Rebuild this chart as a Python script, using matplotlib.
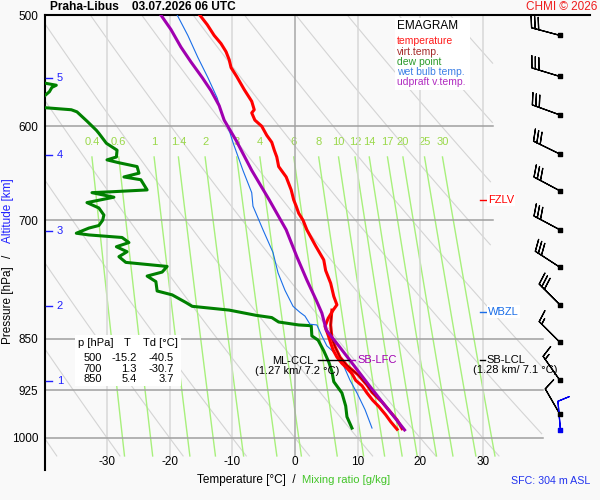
import numpy as np
import matplotlib
matplotlib.use('Agg')
import matplotlib.pyplot as plt
from matplotlib import ticker
from matplotlib.patches import Rectangle

plt.rcParams['font.family'] = ['Liberation Sans', 'DejaVu Sans']

# sounding readings (hPa, degC)
temp_p = [500, 508, 517, 524, 531, 538, 545, 553, 565, 576, 584, 587, 594, 600, 609, 616, 624, 631, 641,
          652, 666, 677, 684, 692, 700, 711, 730, 747, 760, 776, 793, 804, 811, 822, 833, 845, 856, 866,
          876, 885, 892, 900, 910, 918, 929, 940, 950, 963, 974, 986]
temp_T = [-15.2, -14.0, -12.9, -11.8, -11.0, -10.5, -10.2, -9.3, -8.1, -6.9, -6.5, -6.9, -6.4, -5.3, -4.5,
          -3.7, -3.3, -2.9, -2.6, -1.4, -0.6, -0.2, 0.2, 0.6, 1.3, 1.9, 3.3, 4.6, 4.9, 5.7, 6.2, 6.7, 6.1,
          5.3, 4.8, 5.3, 5.7, 6.1, 6.7, 7.5, 8.3, 9.1, 9.7, 10.7, 11.5, 12.4, 13.4, 14.5, 15.3, 16.3]

virt_p = [811, 831, 849, 861, 876, 888, 902, 917, 928, 943, 958, 971, 985]
virt_T = [5.9, 5.7, 5.9, 6.4, 7.2, 8.3, 10.1, 11.5, 12.3, 13.9, 15.2, 16.3, 17.1]

dew_p = [556, 559, 561, 563, 567, 571, 575, 580, 582, 584, 586, 595, 604, 607, 617, 624, 631, 634, 637,
         641, 648, 652, 655, 666, 668, 669, 674, 680, 686, 694, 700, 706, 709, 715, 717, 720, 726, 731,
         737, 743, 750, 755, 762, 767, 774, 786, 791, 801, 806, 811, 818, 821, 827, 831, 832, 846, 852,
         867, 883, 897, 912, 929, 949, 966, 984]
dew_T = [-41.5, -40.0, -38.1, -38.8, -39.2, -40.0, -41.6, -41.6, -40.0, -35.7, -34.8, -33.2, -31.7, -31.3,
         -30.1, -28.4, -28.5, -30.0, -28.1, -25.2, -24.9, -27.3, -24.6, -23.6, -29.2, -32.4, -28.9, -33.2,
         -31.3, -30.5, -30.7, -31.3, -32.9, -34.9, -32.9, -27.6, -26.5, -28.5, -26.8, -28.1, -27.0, -20.4,
         -21.2, -23.6, -22.2, -22.0, -19.6, -17.4, -16.4, -10.5, -6.2, -3.7, -2.6, 0.6, 2.6, 2.7, 3.7,
         4.6, 5.4, 5.9, 6.2, 7.5, 8.1, 8.3, 9.1]

wetb_p = [500, 517, 536, 554, 573, 589, 599, 606, 616, 645, 669, 684, 711, 738, 763, 785, 806, 814, 819,
          830, 831, 846, 860, 868, 887, 910, 929, 955, 984]
wetb_T = [-18.8, -17.1, -15.5, -13.9, -12.4, -11.6, -10.9, -10.4, -9.9, -8.3, -6.9, -6.7, -5.1, -3.5,
          -2.7, -1.6, -0.3, 0.8, 1.6, 2.4, 3.5, 4.3, 5.1, 6.1, 7.7, 8.8, 9.9, 11.2, 12.3]

parcel_p = [500, 512, 527, 540, 554, 566, 580, 594, 614, 645, 677, 711, 743, 772, 798, 815, 838, 860,
            882, 917, 940, 963, 987]
parcel_T = [-21.4, -19.8, -18.2, -16.6, -14.8, -13.4, -12.1, -11.3, -9.4, -6.9, -4.1, -1.4, 0.3, 1.9,
            3.4, 4.3, 5.0, 7.0, 8.9, 11.8, 13.7, 15.6, 17.5]

# winds
wind_p = [517, 553, 589, 628, 667, 711, 756, 804, 855, 910, 962]
wind_dir = [285, 287, 290, 296, 298, 298, 303, 315, 315, 325, 330]
wind_kt = [30, 30, 30, 30, 30, 30, 30, 30, 15, 15, 10]
sfc_p, sfc_dir, sfc_kt = 987, 355, 10

# axes furniture
temp_ticks = [-30, -20, -10, 0, 10, 20, 30]
p_levels = [500, 600, 700, 850, 925, 1000]
mix_ratios = [0.4, 0.6, 1, 1.4, 2, 3, 4, 6, 8, 10, 12, 14, 17, 20, 25, 30]
alt_km = [1, 2, 3, 4, 5]
alt_p = [911, 806, 712, 629, 554]

table_rows = [('500', '-15.2', '-40.5'), ('700', '1.3', '-30.7'), ('850', '5.4', '3.7')]
legend_items = [('temperature', '#ff1a1a'), ('virt.temp.', '#a52a2a'), ('dew point', '#2a9a2a'),
                ('wet bulb temp.', '#3b7fe6'), ('udpraft v.temp.', '#b02cc0')]

RED = '#ff0000'
GREEN = '#008000'
BLUE = '#1a6ee8'
PURPLE = '#a000b0'


def fx(x):
    return x / 600.0


def fy(y):
    return 1 - y / 500.0


def right_edge(p):
    return np.where(p < 800, 31.6, 39.6)


def mix_td(w, p):
    e = w * p / (622.0 + w)
    a = np.log(e / 6.112)
    return 243.5 * a / (17.67 - a)


fig = plt.figure(figsize=(6, 5), dpi=100, facecolor='#f9f9f9')
ax = fig.add_axes([fx(45), fy(470), fx(590) - fx(45), fy(15) - fy(470)])
ax.set_facecolor('#f9f9f9')
ax.set_yscale('log')
ax.set_ylim(1054, 500)
ax.set_xlim(-39.9, 47.1)
for s in ['right', 'bottom']:
    ax.spines[s].set_visible(False)
ax.spines['top'].set_linewidth(1.5)
ax.spines['left'].set_linewidth(1.5)
ax.set_xticks([])
ax.yaxis.set_minor_locator(ticker.NullLocator())
ax.set_yticks(p_levels, [str(v) for v in p_levels])
ax.tick_params(axis='y', length=0, pad=5, labelsize=8.5)

# dry adiabats
pp = np.geomspace(500, 1030, 120)
for t0 in range(-60, 111, 10):
    tt = (t0 + 273.15) * (pp / 1000.0) ** 0.2857 - 273.15
    tt = np.where(tt > right_edge(pp), np.nan, tt)
    ax.plot(tt, pp, color='#d4d4d4', lw=0.8, zorder=1)

# isotherms
for t in temp_ticks:
    ax.plot([t, t], [500, 1030], color='#a8a8a8' if t == 0 else '#d8d8d8', lw=1.1, zorder=1.3)

# mixing ratio lines
pm = np.geomspace(631, 1030, 40)
for w in mix_ratios:
    ax.plot(mix_td(w, pm), pm, color='#a8f07c', lw=1.0, zorder=1.2)
    lab = ('%g' % w)
    ax.text(mix_td(w, 631.0), 616, lab, color='#9ad84a', fontsize=8, ha='center', va='center', zorder=1.2)

# pressure lines
for p in p_levels[1:]:
    ax.plot([-40, 31.6 if p < 800 else 39.6], [p, p], color='#a0a0a0', lw=1.1, zorder=1.5)

# temperature labels inside the frame
for t in temp_ticks:
    ax.text(t, 1040, str(t), fontsize=8.5, ha='center', va='center')

# altitude scale
for km, p in zip(alt_km, alt_p):
    ax.plot([-39.7, -38.8], [p, p], color='#2020ff', lw=1.0, clip_on=False, zorder=3)
    ax.text(-37.5, p, str(km), color='#2020ff', fontsize=8, ha='center', va='center')

# profiles
ax.plot(dew_T, dew_p, color=GREEN, lw=2.2, zorder=4)
ax.plot(wetb_T, wetb_p, color=BLUE, lw=0.8, zorder=4.2)
ax.plot(virt_T, virt_p, color=RED, lw=2.2, zorder=4.4)
ax.plot(virt_T, virt_p, color='#8b0000', lw=0.7, zorder=4.5)
ax.plot(temp_T, temp_p, color=RED, lw=2.2, zorder=4.6)
ax.plot(parcel_T, parcel_p, color=PURPLE, lw=2.2, zorder=4.8)

# levels
ax.plot([3.7, 8.8], [880, 880], color='k', lw=1.0, zorder=5)
ax.plot([8.8, 9.6], [880, 880], color=PURPLE, lw=1.0, zorder=5)
ax.text(3.0, 881, 'ML-CCL', fontsize=8, ha='right', va='center', zorder=6)
ax.text(0.3, 896, '(1.27 km/ 7.2 °C)', fontsize=8, ha='center', va='center', zorder=6)
ax.text(10.0, 880, 'SB-LFC', fontsize=8, color=PURPLE, ha='left', va='center', zorder=6)
ax.plot([29.5, 30.3], [880, 880], color='k', lw=1.0, zorder=5)
ax.text(30.6, 880, 'SB-LCL', fontsize=8, ha='left', va='center', zorder=6)
ax.text(35.2, 894, '(1.28 km/ 7.1 °C)', fontsize=8, ha='center', va='center', zorder=6)
ax.plot([29.5, 30.5], [677, 677], color=RED, lw=1.0, zorder=5)
ax.text(30.8, 677, 'FZLV', fontsize=8, color=RED, ha='left', va='center', zorder=6,
        bbox=dict(facecolor='white', edgecolor='none', pad=1))
ax.plot([29.5, 30.5], [813, 813], color=BLUE, lw=1.0, zorder=5)
ax.text(30.8, 813, 'WBZL', fontsize=8, color=BLUE, ha='left', va='center', zorder=6,
        bbox=dict(facecolor='white', edgecolor='none', pad=1))

# winds
wx = 42.3
rad = np.deg2rad(wind_dir)
u = -np.array(wind_kt) * np.sin(rad)
v = -np.array(wind_kt) * np.cos(rad)
ax.barbs([wx] * len(wind_p), wind_p, u, v, length=6.5, lw=0.9, color='k', clip_on=False, zorder=6)
ax.scatter([wx] * len(wind_p), wind_p, marker='s', s=5, color='k', zorder=7, clip_on=False)
sr = np.deg2rad(sfc_dir)
ax.barbs([wx], [sfc_p], [-sfc_kt * np.sin(sr)], [-sfc_kt * np.cos(sr)], length=6.5, lw=0.9,
         color='#0000ee', clip_on=False, zorder=6)
ax.scatter([wx], [sfc_p], marker='s', s=5, color='#0000ee', zorder=7, clip_on=False)

# legend box
ax.add_patch(Rectangle((fx(395), fy(90)), fx(470) - fx(395), fy(18) - fy(90), transform=fig.transFigure,
                       facecolor='white', edgecolor='none', zorder=7, clip_on=False))
fig.text(fx(397), fy(26), 'EMAGRAM', fontsize=8.5, va='center', zorder=8)
for i, (name, col) in enumerate(legend_items):
    fig.text(fx(397), fy(41.5 + 10.1 * i), name, color=col, fontsize=7.5, va='center', zorder=8)

# table
ax.add_patch(Rectangle((fx(75), fy(386)), fx(181) - fx(75), fy(335) - fy(386), transform=fig.transFigure,
                       facecolor='white', edgecolor='none', zorder=7, clip_on=False))
fig.text(fx(78), fy(343), 'p [hPa]', fontsize=8, va='center', zorder=8)
fig.text(fx(127), fy(343), 'T', fontsize=8, va='center', ha='center', zorder=8)
fig.text(fx(143), fy(343), 'Td [°C]', fontsize=8, va='center', zorder=8)
for i, (a, b, c) in enumerate(table_rows):
    yy = fy(358 + 10.5 * i)
    fig.text(fx(102), yy, a, fontsize=8, ha='right', va='center', zorder=8)
    fig.text(fx(137), yy, b, fontsize=8, ha='right', va='center', zorder=8)
    fig.text(fx(174), yy, c, fontsize=8, ha='right', va='center', zorder=8)

# titles and axis labels
fig.text(fx(50), fy(7.5), 'Praha-Libus    03.07.2026 06 UTC', fontsize=8.6, fontweight='bold', va='center')
fig.text(fx(597), fy(7.5), 'CHMI © 2026', fontsize=8.5, color='#ee1c1c', ha='right', va='center')
fig.text(fx(8), fy(305), 'Pressure [hPa]', fontsize=8.5, rotation=90, ha='center', va='center')
fig.text(fx(8), fy(256), '/', fontsize=8.5, rotation=90, ha='center', va='center')
fig.text(fx(8), fy(211), 'Altitude [km]', fontsize=8.5, rotation=90, ha='center', va='center',
         color='#2020ff')
fig.text(fx(197), fy(480), 'Temperature [°C]  /', fontsize=8.5, va='center')
fig.text(fx(302), fy(480), 'Mixing ratio [g/kg]', fontsize=8.1, va='center', color='#44c52a')
fig.text(fx(590), fy(481), 'SFC: 304 m ASL', fontsize=7.7, va='center', ha='right', color='#2233ee')

fig.savefig('out.png', dpi=100, facecolor=fig.get_facecolor())
